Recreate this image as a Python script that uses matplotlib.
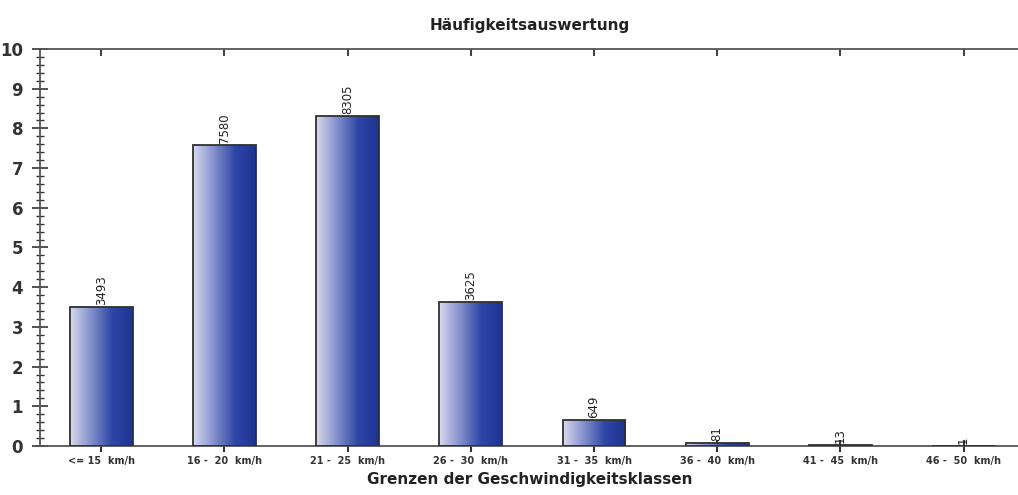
import numpy as np
import matplotlib
matplotlib.use('Agg')
import matplotlib.pyplot as plt
from matplotlib.colors import LinearSegmentedColormap
from matplotlib.ticker import MultipleLocator

# speed classes and counts (bar height = count / 1000)
klassen = ['<= 15  km/h', '16 -  20  km/h', '21 -  25  km/h', '26 -  30  km/h',
           '31 -  35  km/h', '36 -  40  km/h', '41 -  45  km/h', '46 -  50  km/h']
anzahl = [3493, 7580, 8305, 3625, 649, 81, 13, 1]
hoehe = [a / 1000.0 for a in anzahl]

fig = plt.figure(figsize=(10.18, 4.95), dpi=100)
ax = fig.add_axes([0.039, 0.099, 0.962, 0.802])

x = np.arange(len(klassen))
breite = 0.51
cmap = LinearSegmentedColormap.from_list('blau', ['#d8daef', '#8390cc', '#2e47a6', '#1d3390'])
grad = np.linspace(0, 1, 256).reshape(1, -1)

bars = ax.bar(x, hoehe, width=breite, facecolor='none', edgecolor='#303030', linewidth=1.3, zorder=3)
for b in bars:
    x0, y0 = b.get_x(), b.get_y()
    w, h = b.get_width(), b.get_height()
    im = ax.imshow(grad, cmap=cmap, aspect='auto', extent=[x0, x0 + w, y0, y0 + h],
                   interpolation='bilinear', zorder=2)
    im.set_clip_path(b)

for xi, h, a in zip(x, hoehe, anzahl):
    ax.text(xi, h + 0.05, str(a), rotation=90, ha='center', va='bottom',
            fontsize=8.5, color='#222222', zorder=4)

ax.set_xlim(-0.5, 7.45)
ax.set_ylim(0, 10)
ax.set_xticks(x)
ax.set_xticklabels(klassen, fontsize=7, fontweight='bold', color='#333333')
ax.yaxis.set_major_locator(MultipleLocator(1))
ax.yaxis.set_minor_locator(MultipleLocator(0.2))
ax.tick_params(axis='y', which='major', direction='inout', length=12, width=1.2,
               labelsize=12, colors='#333333', pad=6)
ax.tick_params(axis='y', which='minor', direction='inout', length=6, width=1, colors='#333333')
ax.tick_params(axis='x', which='major', direction='inout', length=9, width=1.5,
               colors='#333333', pad=3)
for lbl in ax.get_yticklabels():
    lbl.set_fontweight('bold')

# small inward ticks on the top frame line
oben = ax.secondary_xaxis('top')
oben.set_xticks(x)
oben.set_xticklabels([])
oben.tick_params(direction='in', length=5, width=1.5, colors='#444444')
oben.spines['top'].set_visible(False)

for s in ['left', 'bottom', 'top']:
    ax.spines[s].set_color('#555555')
    ax.spines[s].set_linewidth(1.3)
ax.spines['right'].set_color('#dddddd')

ax.set_title('Häufigkeitsauswertung', fontsize=11, fontweight='bold', color='#222222', pad=14)
ax.set_xlabel('Grenzen der Geschwindigkeitsklassen', fontsize=11, fontweight='bold',
              color='#222222', labelpad=4)

fig.savefig('out.png', dpi=100)
